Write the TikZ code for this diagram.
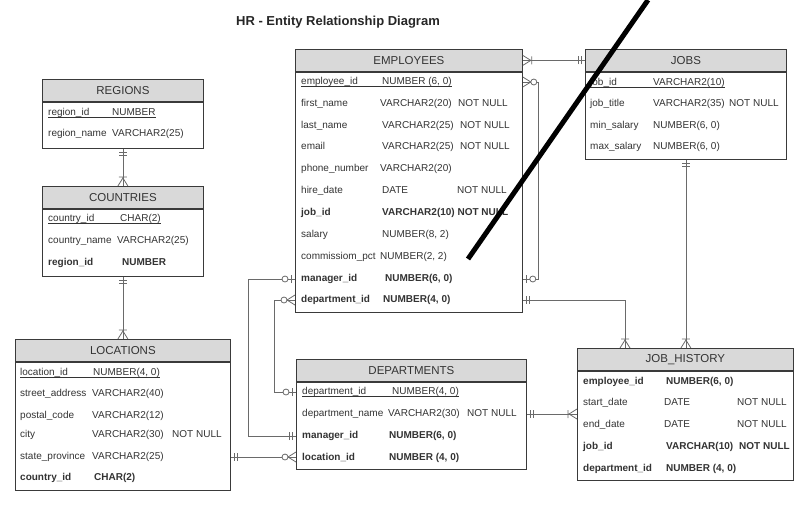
\documentclass[tikz,border=0pt]{standalone}
\usepackage{fontspec}
\setmainfont{Liberation Sans}
\usepackage{tikz}
\usetikzlibrary{positioning,calc}
\usepackage{xcolor}
\definecolor{ink}{HTML}{333333}
\definecolor{frame}{HTML}{3A3A3A}
\definecolor{hdrgray}{HTML}{D9D9D9}
\definecolor{wire}{HTML}{6A6A6A}

\tikzset{
  pics/mone/.style={code={\draw[rel] (4,-4) -- (4,4) (7,-4) -- (7,4);}},
  pics/zone/.style={code={\draw[rel] (4,-4) -- (4,4); \draw[rel, fill=white] (10,0) circle (3);}},
  pics/omany/.style={code={\draw[rel] (0,-5) -- (8,0) -- (0,5) (9,-4) -- (9,4);}},
  pics/zmany/.style={code={\draw[rel] (0,-5) -- (8,0) -- (0,5); \draw[rel, fill=white] (11,0) circle (3);}},
}

\begin{document}
\begin{tikzpicture}[x=1pt, y=-1pt,
    hdr/.style={draw=frame, line width=0.8pt, fill=hdrgray, anchor=north west, inner sep=0pt,
      minimum height=22pt, text=ink, font=\fontsize{11.5}{13}\selectfont},
    tbl/.style={draw=frame, line width=0.8pt, fill=white, anchor=north west, inner sep=0pt},
    fld/.style={anchor=west, inner sep=0pt, text height=7pt, text depth=2pt, text=ink,
      font=\fontsize{10}{12}\selectfont},
    key/.style={fld, font=\fontsize{10}{12}\selectfont\bfseries},
    rel/.style={draw=wire, line width=0.8pt},
    ul/.style={draw=ink, line width=0.6pt}]
  \useasboundingbox (0,0) rectangle (806,507);
  \node[font=\fontsize{13}{15}\selectfont\bfseries, text=black!85] (title) at (338,22) {HR - Entity Relationship Diagram};

  % REGIONS
  \node[hdr, minimum width=161pt] (reg) at (42,79) {REGIONS};
  \node[tbl, minimum width=161pt, minimum height=46pt] (regb) at (reg.south west) {};
  \node[fld] (reg-id) at (48,113) {region\_id}; \node[fld] (reg-id-t) at (112,113) {NUMBER};
  \node[fld] (reg-nm) at (48,134) {region\_name}; \node[fld] (reg-nm-t) at (112,134) {VARCHAR2(25)};
  \draw[ul] ([yshift=-1.6pt]reg-id.base west) -- ([yshift=-1.6pt]reg-id-t.base east);

  % COUNTRIES
  \node[hdr, minimum width=161pt] (cty) at (42,186) {COUNTRIES};
  \node[tbl, minimum width=161pt, minimum height=67pt] (ctyb) at (cty.south west) {};
  \node[fld] (cty-id) at (48,219) {country\_id}; \node[fld] (cty-id-t) at (120,219) {CHAR(2)};
  \node[fld] (cty-nm) at (48,241) {country\_name}; \node[fld] (cty-nm-t) at (117,241) {VARCHAR2(25)};
  \node[key] (cty-reg) at (48,263) {region\_id}; \node[key] (cty-reg-t) at (122,263) {NUMBER};
  \draw[ul] ([yshift=-1.6pt]cty-id.base west) -- ([yshift=-1.6pt]cty-id-t.base east);

  % LOCATIONS
  \node[hdr, minimum width=215pt] (loc) at (15,339) {LOCATIONS};
  \node[tbl, minimum width=215pt, minimum height=128pt] (locb) at (loc.south west) {};
  \node[fld] (loc-id) at (20,373) {location\_id}; \node[fld] (loc-id-t) at (93,373) {NUMBER(4, 0)};
  \node[fld] (loc-st) at (20,394) {street\_address}; \node[fld] (loc-st-t) at (92,394) {VARCHAR2(40)};
  \node[fld] (loc-pc) at (20,416) {postal\_code}; \node[fld] (loc-pc-t) at (92,416) {VARCHAR2(12)};
  \node[fld] (loc-ci) at (20,435) {city}; \node[fld] (loc-ci-t) at (92,435) {VARCHAR2(30)};
  \node[fld] (loc-ci-n) at (172,435) {NOT NULL};
  \node[fld] (loc-sp) at (20,457) {state\_province}; \node[fld] (loc-sp-t) at (92,457) {VARCHAR2(25)};
  \node[key] (loc-cty) at (20,478) {country\_id}; \node[key] (loc-cty-t) at (94,478) {CHAR(2)};
  \draw[ul] ([yshift=-1.6pt]loc-id.base west) -- ([yshift=-1.6pt]loc-id-t.base east);

  % EMPLOYEES
  \node[hdr, minimum width=227pt] (emp) at (295,49) {EMPLOYEES};
  \node[tbl, minimum width=227pt, minimum height=240pt] (empb) at (emp.south west) {};
  \node[fld] (emp-id) at (301,82) {employee\_id}; \node[fld] (emp-id-t) at (382,82) {NUMBER (6, 0)};
  \node[fld] (emp-fn) at (301,104) {first\_name}; \node[fld] (emp-fn-t) at (380,104) {VARCHAR2(20)};
  \node[fld] (emp-fn-n) at (458,104) {NOT NULL};
  \node[fld] (emp-ln) at (301,126) {last\_name}; \node[fld] (emp-ln-t) at (382,126) {VARCHAR2(25)};
  \node[fld] (emp-ln-n) at (460,126) {NOT NULL};
  \node[fld] (emp-em) at (301,147) {email}; \node[fld] (emp-em-t) at (382,147) {VARCHAR2(25)};
  \node[fld] (emp-em-n) at (460,147) {NOT NULL};
  \node[fld] (emp-ph) at (301,169) {phone\_number}; \node[fld] (emp-ph-t) at (380,169) {VARCHAR2(20)};
  \node[fld] (emp-hd) at (301,191) {hire\_date}; \node[fld] (emp-hd-t) at (382,191) {DATE};
  \node[fld] (emp-hd-n) at (457,191) {NOT NULL};
  \node[key] (emp-job) at (301,213) {job\_id}; \node[key] (emp-job-t) at (382,213) {VARCHAR2(10) NOT NULL};
  \node[fld] (emp-sal) at (301,235) {salary}; \node[fld] (emp-sal-t) at (382,235) {NUMBER(8, 2)};
  \node[fld] (emp-com) at (301,257) {commissiom\_pct}; \node[fld] (emp-com-t) at (380,257) {NUMBER(2, 2)};
  \node[key] (emp-mgr) at (301,279) {manager\_id}; \node[key] (emp-mgr-t) at (385,279) {NUMBER(6, 0)};
  \node[key] (emp-dep) at (301,300) {department\_id}; \node[key] (emp-dep-t) at (383,300) {NUMBER(4, 0)};
  \draw[ul] ([yshift=-1.6pt]emp-id.base west) -- ([yshift=-1.6pt]emp-id-t.base east);

  % JOBS
  \node[hdr, minimum width=201pt] (job) at (585,49) {JOBS};
  \node[tbl, minimum width=201pt, minimum height=87pt] (jobb) at (job.south west) {};
  \node[fld] (job-id) at (590,83) {job\_id}; \node[fld] (job-id-t) at (653,83) {VARCHAR2(10)};
  \node[fld] (job-ti) at (590,104) {job\_title}; \node[fld] (job-ti-t) at (653,104) {VARCHAR2(35)};
  \node[fld] (job-ti-n) at (729,104) {NOT NULL};
  \node[fld] (job-mi) at (590,126) {min\_salary}; \node[fld] (job-mi-t) at (653,126) {NUMBER(6, 0)};
  \node[fld] (job-ma) at (590,147) {max\_salary}; \node[fld] (job-ma-t) at (653,147) {NUMBER(6, 0)};
  \draw[ul] ([yshift=-1.6pt]job-id.base west) -- ([yshift=-1.6pt]job-id-t.base east);

  % DEPARTMENTS
  \node[hdr, minimum width=230pt] (dep) at (296,359) {DEPARTMENTS};
  \node[tbl, minimum width=230pt, minimum height=87pt] (depb) at (dep.south west) {};
  \node[fld] (dep-id) at (302,392) {department\_id}; \node[fld] (dep-id-t) at (392,392) {NUMBER(4, 0)};
  \node[fld] (dep-nm) at (302,414) {department\_name}; \node[fld] (dep-nm-t) at (388,414) {VARCHAR2(30)};
  \node[fld] (dep-nm-n) at (467,414) {NOT NULL};
  \node[key] (dep-mgr) at (302,436) {manager\_id}; \node[key] (dep-mgr-t) at (389,436) {NUMBER(6, 0)};
  \node[key] (dep-loc) at (302,458) {location\_id}; \node[key] (dep-loc-t) at (389,458) {NUMBER (4, 0)};
  \draw[ul] ([yshift=-1.6pt]dep-id.base west) -- ([yshift=-1.6pt]dep-id-t.base east);

  % JOB_HISTORY
  \node[hdr, minimum width=216pt] (jh) at (577,348) {JOB\_HISTORY};
  \node[tbl, minimum width=216pt, minimum height=109pt] (jhb) at (jh.south west) {};
  \node[key] (jh-emp) at (583,382) {employee\_id}; \node[key] (jh-emp-t) at (666,382) {NUMBER(6, 0)};
  \node[fld] (jh-sd) at (583,403) {start\_date}; \node[fld] (jh-sd-t) at (664,403) {DATE};
  \node[fld] (jh-sd-n) at (737,403) {NOT NULL};
  \node[fld] (jh-ed) at (583,425) {end\_date}; \node[fld] (jh-ed-t) at (664,425) {DATE};
  \node[fld] (jh-ed-n) at (737,425) {NOT NULL};
  \node[key] (jh-job) at (583,447) {job\_id}; \node[key] (jh-job-t) at (666,447) {VARCHAR(10)};
  \node[key] (jh-job-n) at (739,447) {NOT NULL};
  \node[key] (jh-dep) at (583,469) {department\_id}; \node[key] (jh-dep-t) at (666,469) {NUMBER (4, 0)};

  % relationships
  \draw[rel] (regb.south) -- (cty.north);
  \pic[rotate=-90] at (regb.south) {mone}; \pic[rotate=90] at (cty.north) {omany};
  \draw[rel] (ctyb.south) -- (loc.north);
  \pic[rotate=-90] at (ctyb.south) {mone}; \pic[rotate=90] at (loc.north) {omany};
  \draw[rel] (emp.east) -- (job.west);
  \pic at (emp.east) {omany}; \pic[rotate=180] at (job.west) {mone};
  \draw[rel] (empb.east |- emp-id) -- ++(16,0) |- (empb.east |- emp-mgr);
  \pic at (empb.east |- emp-id) {zmany}; \pic at (empb.east |- emp-mgr) {zone};
  \draw[rel] (empb.east |- emp-dep) -| ([xshift=48pt]jh.north west);
  \pic at (empb.east |- emp-dep) {mone}; \pic[rotate=90] at ([xshift=48pt]jh.north west) {omany};
  \draw[rel] (jobb.south) -- (jobb.south |- jh.north);
  \pic[rotate=-90] at (jobb.south) {mone}; \pic[rotate=90] at (jobb.south |- jh.north) {omany};
  \draw[rel] (depb.east |- dep-nm) -- (jhb.west |- dep-nm);
  \pic at (depb.east |- dep-nm) {mone}; \pic[rotate=180] at (jhb.west |- dep-nm) {omany};
  \draw[rel] (empb.west |- emp-mgr) -- ++(-47,0) |- (depb.west |- dep-mgr);
  \pic[rotate=180] at (empb.west |- emp-mgr) {zone}; \pic[rotate=180] at (depb.west |- dep-mgr) {mone};
  \draw[rel] (empb.west |- emp-dep) -- ++(-21,0) |- (depb.west |- dep-id);
  \pic[rotate=180] at (empb.west |- emp-dep) {zmany}; \pic[rotate=180] at (depb.west |- dep-id) {zone};
  \draw[rel] (locb.east |- loc-sp) -- (depb.west |- loc-sp);
  \pic at (locb.east |- loc-sp) {mone}; \pic[rotate=180] at (depb.west |- loc-sp) {zmany};

  % stroke across the sheet
  \coordinate (slash-a) at (468,259);
  \coordinate (slash-b) at (648,0);
  \draw[line width=5pt] (slash-a) -- (slash-b);
\end{tikzpicture}
\end{document}
